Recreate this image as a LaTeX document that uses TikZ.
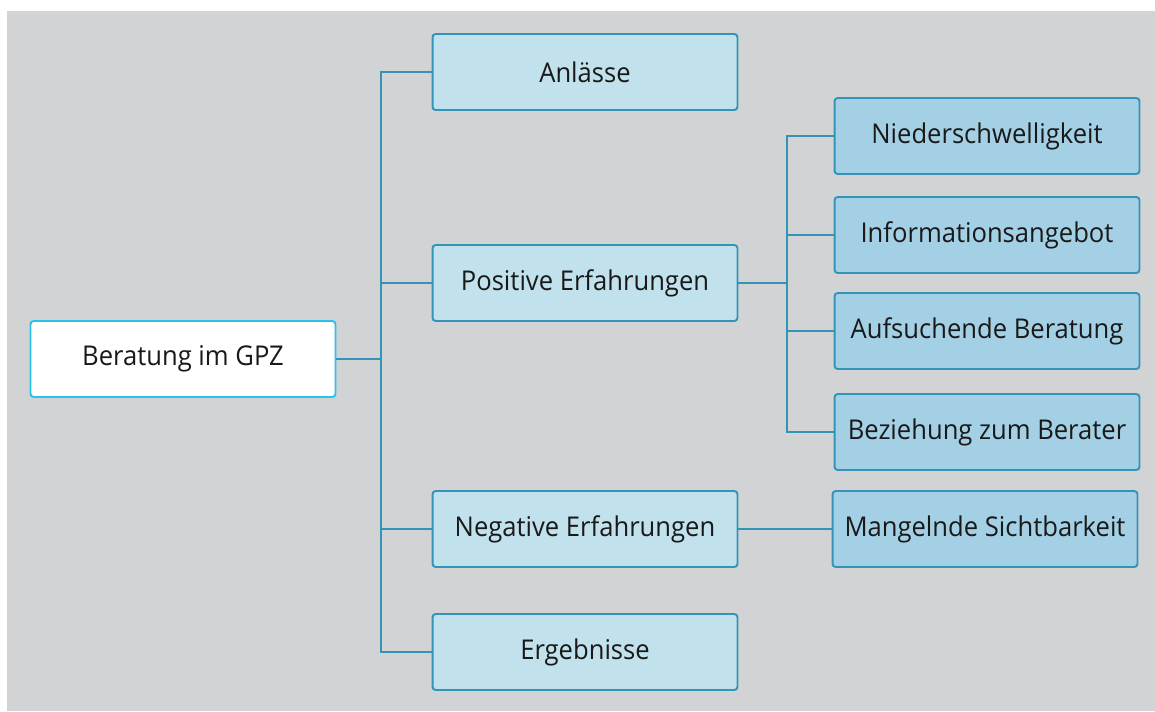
\documentclass[tikz,border=0pt]{standalone}
\usepackage{fontspec}
\setmainfont{Open Sans}[FakeStretch=0.94]
\usetikzlibrary{positioning}
\definecolor{BgGray}{RGB}{210,211,213}
\definecolor{EdgeBlue}{RGB}{52,148,184}
\definecolor{RootEdge}{RGB}{40,195,236}
\definecolor{LevelOne}{RGB}{193,226,237}
\definecolor{LevelTwo}{RGB}{164,208,229}

\begin{document}
\begin{tikzpicture}[x=0.02cm,y=-0.02cm,
        box/.style={rectangle,rounded corners=1.8pt,draw=EdgeBlue,line width=1.1pt,
                   font=\fontsize{15.5}{18}\selectfont,text=black!90,
                   minimum width=6.1cm,minimum height=1.52cm,inner sep=0pt},
        root/.style={box,draw=RootEdge,fill=white},
        lone/.style={box,fill=LevelOne},
        ltwo/.style={box,fill=LevelTwo},
        arr/.style={draw=EdgeBlue,line width=1.1pt}
      ]
        \useasboundingbox (0,0) rectangle (1155,711);
        \fill[BgGray] (7,11) rectangle (1155,711);
        % root and first level
        \node[root] (gpz) at (183,359) {Beratung im GPZ};
        \node[lone] (anl) at (585,72) {Anlässe};
        \node[lone] (pos) at (585,283) {Positive Erfahrungen};
        \node[lone] (neg) at (585,529) {Negative Erfahrungen};
        \node[lone] (erg) at (585,652) {Ergebnisse};
        % second level
        \node[ltwo] (nie) at (987,136) {Niederschwelligkeit};
        \node[ltwo] (inf) at (987,235) {Informationsangebot};
        \node[ltwo] (auf) at (987,331) {Aufsuchende Beratung};
        \node[ltwo] (bez) at (987,432) {Beziehung zum Berater};
        \node[ltwo] (man) at (985,529) {Mangelnde Sichtbarkeit};
        \coordinate (ta) at (381,359);
        \coordinate (tb) at (787,283);
        \draw[arr] (gpz) -- (ta);
        \draw[arr] (ta) |- (anl); \draw[arr] (ta) |- (pos);
        \draw[arr] (ta) |- (neg); \draw[arr] (ta) |- (erg);
        \draw[arr] (pos) -- (tb);
        \draw[arr] (tb) |- (nie); \draw[arr] (tb) |- (inf);
        \draw[arr] (tb) |- (auf); \draw[arr] (tb) |- (bez);
        \draw[arr] (neg) -- (man);
      \end{tikzpicture}
\end{document}
